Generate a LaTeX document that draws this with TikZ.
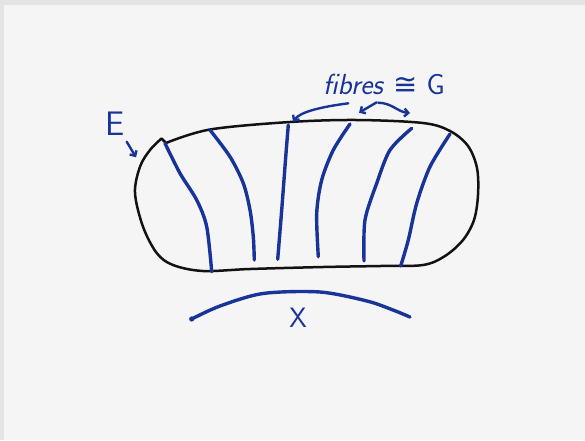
\documentclass[tikz,border=0pt]{standalone}
\usepackage{fontspec}
\newfontfamily\glyphfont{DejaVu Sans}
\usetikzlibrary{arrows.meta}
\definecolor{ttqqcc}{RGB}{24,52,152}
\definecolor{wwwwww}{RGB}{18,18,18}
\definecolor{paperbg}{RGB}{245,245,245}
\definecolor{framebg}{RGB}{228,228,228}

\begin{document}
\begin{tikzpicture}[x=1pt,y=-1pt,line cap=round,line join=round,
  fibre/.style={line width=3.4pt,color=ttqqcc},
  pointer/.style={line width=2.4pt,color=ttqqcc,-{Straight Barb[length=4pt,width=8pt,line width=2.4pt]}},
  hand/.style={color=ttqqcc,font=\sffamily}]
  \useasboundingbox (0,0) rectangle (585,440);
  \fill[color=framebg] (0,0) rectangle (585,440);
  \fill[color=paperbg] (4,5) rectangle (585,440);
  % total space
  \draw[line width=2.5pt,color=wwwwww] plot[smooth,tension=0.55] coordinates {(166,143) (210,129.5) (290,122) (357,120) (423,123) (450,131) (468,146) (477,168) (478,195) (474,220) (463,240) (445,256) (423,265) (380,266) (323,267) (250,269) (203,271) (173,265) (156.7,253) (143,226.7) (135,193) (140,166.7) (150,150) (161.5,138.5)} -- (166,143);
  % fibres
  \draw[fibre] plot[smooth] coordinates {(165,143.3) (180,173.3) (196.7,200) (206.7,226.7) (211.7,271.7)};
  \draw[fibre] plot[smooth] coordinates {(210,130) (230,156.7) (243.3,183.3) (250,210) (253.3,236.7) (254.3,260)};
  \draw[fibre] plot[smooth] coordinates {(288.3,125) (286,153.3) (281.7,210) (277.7,259.3)};
  \draw[fibre] plot[smooth] coordinates {(350,124) (333.3,150) (321.7,180) (316.7,213.3) (318.3,256.7)};
  \draw[fibre] plot[smooth] coordinates {(411.7,128.3) (390,150) (376.7,183.3) (365,220) (364,261)};
  \draw[fibre] plot[smooth] coordinates {(450,134) (430,166.7) (416.7,203.3) (408.3,240) (400.7,266)};
  % base
  \draw[fibre] plot[smooth] coordinates {(191.7,319) (220,306) (263,293.5) (320,292) (367,301) (393,310) (410,317)};
  \fill[color=ttqqcc] (191.7,319) circle (2.6pt);
  % labels
  \node[hand,font=\sffamily\fontsize{34}{34}\selectfont] (E) at (115,124) {E};
  \node[hand,font=\sffamily\fontsize{28}{28}\selectfont] (X) at (298,318) {X};
  \node[hand,font=\sffamily\fontsize{29}{29}\selectfont] (fib) at (384,84) {\textit{fibres\/} {\glyphfont ≅} G};
  \coordinate (e1) at (126.7,141.7);
  \coordinate (e2) at (136,157.3);
  \coordinate (s1) at (348.3,103.3);
  \coordinate (s2) at (376.7,102.3);
  \coordinate (s3) at (378.3,102.7);
  \coordinate (t1) at (293,121.7);
  \coordinate (t2) at (359,112.7);
  \coordinate (t3) at (410,113);
  \draw[pointer] (e1) -- (e2);
  \draw[pointer] (s1) .. controls (320,107) and (300,112) .. (t1);
  \draw[pointer] (s2) -- (t2);
  \draw[pointer] (s3) .. controls (392,103) and (398,112) .. (t3);
\end{tikzpicture}
\end{document}
